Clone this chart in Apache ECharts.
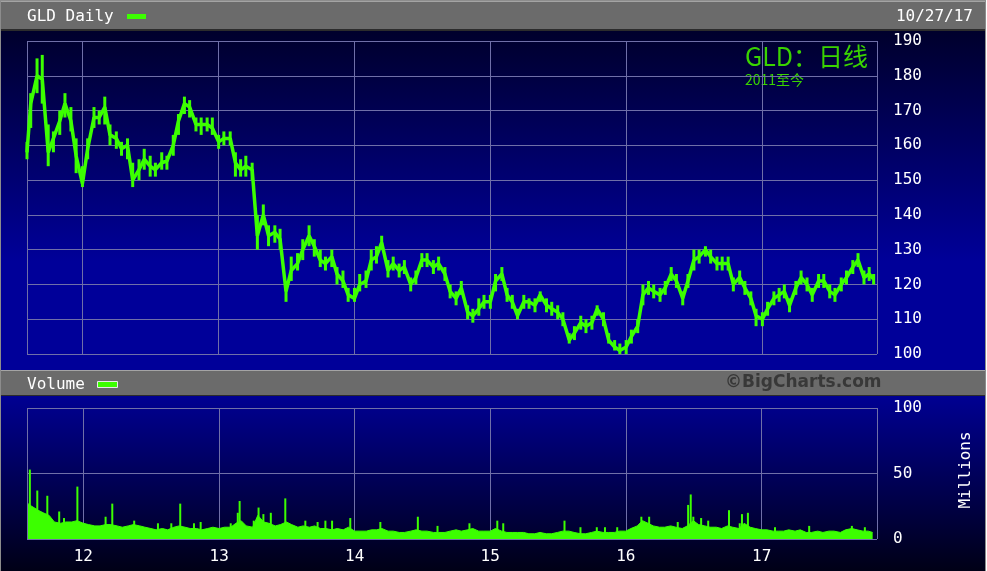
<!DOCTYPE html>
<html>
<head>
<meta charset="utf-8">
<script src="https://cdn.jsdelivr.net/npm/echarts@6/dist/echarts.min.js"></script>
<style>
  html, body { margin: 0; padding: 0; background: #fff; }
  #chart { width: 987px; height: 571px; }
</style>
</head>
<body>
<div id="chart"></div>
<script>
// 日期（半月一点）
const dates = [
  '2011-08-05','2011-08-15','2011-09-01','2011-09-15','2011-10-01','2011-10-15','2011-11-01','2011-11-15','2011-12-01','2011-12-15',
  '2012-01-01','2012-01-15','2012-02-01','2012-02-15','2012-03-01','2012-03-15','2012-04-01','2012-04-15','2012-05-01','2012-05-15',
  '2012-06-01','2012-06-15','2012-07-01','2012-07-15','2012-08-01','2012-08-15','2012-09-01','2012-09-15','2012-10-01','2012-10-15',
  '2012-11-01','2012-11-15','2012-12-01','2012-12-15','2013-01-01','2013-01-15','2013-02-01','2013-02-15','2013-03-01','2013-03-15',
  '2013-04-01','2013-04-15','2013-05-01','2013-05-15','2013-06-01','2013-06-15','2013-07-01','2013-07-15','2013-08-01','2013-08-15',
  '2013-09-01','2013-09-15','2013-10-01','2013-10-15','2013-11-01','2013-11-15','2013-12-01','2013-12-15','2014-01-01','2014-01-15',
  '2014-02-01','2014-02-15','2014-03-01','2014-03-15','2014-04-01','2014-04-15','2014-05-01','2014-05-15','2014-06-01','2014-06-15',
  '2014-07-01','2014-07-15','2014-08-01','2014-08-15','2014-09-01','2014-09-15','2014-10-01','2014-10-15','2014-11-01','2014-11-15',
  '2014-12-01','2014-12-15','2015-01-01','2015-01-15','2015-02-01','2015-02-15','2015-03-01','2015-03-15','2015-04-01','2015-04-15',
  '2015-05-01','2015-05-15','2015-06-01','2015-06-15','2015-07-01','2015-07-15','2015-08-01','2015-08-15','2015-09-01','2015-09-15',
  '2015-10-01','2015-10-15','2015-11-01','2015-11-15','2015-12-01','2015-12-15','2016-01-01','2016-01-15','2016-02-01','2016-02-15',
  '2016-03-01','2016-03-15','2016-04-01','2016-04-15','2016-05-01','2016-05-15','2016-06-01','2016-06-15','2016-07-01','2016-07-15',
  '2016-08-01','2016-08-15','2016-09-01','2016-09-15','2016-10-01','2016-10-15','2016-11-01','2016-11-15','2016-12-01','2016-12-15',
  '2017-01-01','2017-01-15','2017-02-01','2017-02-15','2017-03-01','2017-03-15','2017-04-01','2017-04-15','2017-05-01','2017-05-15',
  '2017-06-01','2017-06-15','2017-07-01','2017-07-15','2017-08-01','2017-08-15','2017-09-01','2017-09-15','2017-10-01','2017-10-15',
  '2017-10-27'
];
// 收盘价
const price = [
  158,172,180,179,158,162,167,172,167,157,
  149,159,168,168,171,163,162,159,160,150,
  153,156,154,153,155,155.5,160,167,172,171,
  166,166,166,165,161,162,162,155,153,154,
  153,134,140,134,135,133,118,124,126,130,
  134,131,127,126,128,123,121,117,116,120,
  121,127,128,132,124,126,124,125,120,122,
  127,127,125,126,123,118,116,119,112,111,
  113,115,115,121,123,117,115,111,115,115,
  114,117,114,113,112,110,104,106,109,108,
  109,113,110,104,102,101,102,105,108,117,
  119,118,117,119,123,121,116,121,127,128,
  130,128,126,126,126,120,122,119,116,111,
  110,113,116,117,118,114,119,122,120,117,
  121,121,118,117,120,122,125,127,122,123,
  121.5
];
// 最高价
const high = [
  161,175,185,186,166,164,170,175,171,162,
  154,162,171,170,174,166,164,161,162,155,
  156,159,157,155,158,157,163,169,174,173,
  168,168,168,168,163,164,164,158,156,157,
  155,140,143,137,137,136,121,128,129,133,
  137,133,130,128,130,125,124,119,119,123,
  124,130,131,134,127,128,126,127,122,124,
  129,129,127,128,125,120,118,121,114,113,
  116,117,117,123,125,119,117,113,117,116,
  116,118,116,115,114,112,106,108,111,110,
  111,114,112,106,104,103,104,107,110,120,
  121,120,119,121,125,123,118,123,130,130,
  131,130,128,128,128,122,124,121,118,113,
  112,115,118,119,120,116,121,124,122,119,
  123,123,120,119,122,124,127,129,124,125,
  123
];
// 最低价
const low = [
  156,165,175,172,154,158,163,168,164,152,
  148,156,165,166,166,160,159,157,156,148,
  150,153,151,151,153,153,157,163,169,168,
  164,163,164,163,159,160,160,151,151,151,
  150,130,137,131,132,130,115,121,124,127,
  131,128,125,124,125,120,119,115,115,118,
  119,124,126,130,122,124,122,123,118,120,
  125,125,123,124,121,116,114,117,110,109,
  111,113,113,118,121,115,113,110,113,113,
  112,115,112,111,110,108,103,104,107,106,
  107,111,108,103,101,100,100,103,106,114,
  117,116,115,117,121,119,114,119,124,126,
  128,126,124,124,124,118,120,117,114,108,
  108,111,114,115,116,112,117,120,118,115,
  119,119,116,115,118,120,123,125,120,121,
  120
];
// 成交量（百万）
const volume = [
  27,25,22,20,18,13,12,13,13,14,
  12,11,10,10,11,11,10,9,10,11,
  10,9,8,7,8,7,9,10,9,8,
  8,7,8,9,8,9,9,12,14,10,
  9,18,13,12,10,11,13,11,9,10,
  9,10,8,8,7,8,7,9,6,6,
  6,7,7,8,6,6,5,5,6,7,
  6,6,5,5,5,6,7,6,7,8,
  6,6,6,8,6,5,5,5,5,4,
  4,5,4,4,5,6,6,5,4,4,
  5,6,5,5,5,6,6,8,10,14,
  12,10,9,9,10,9,8,10,14,11,
  10,9,9,8,10,9,8,12,9,8,
  7,7,6,6,6,7,6,7,5,5,
  6,5,6,6,5,7,8,7,6,6,
  5
];
// 成交量尖峰
const spikeDates = [
  '2011-08-10','2011-08-30','2011-09-26','2011-10-28','2011-11-10','2011-12-16','2012-03-01','2012-03-19','2012-05-17','2012-07-20',
  '2012-08-25','2012-09-18','2012-10-25','2012-11-12','2013-02-01','2013-02-20','2013-02-25','2013-04-04','2013-04-17','2013-04-30',
  '2013-05-20','2013-06-28','2013-08-21','2013-09-23','2013-10-14','2013-11-01','2013-12-20','2014-03-11','2014-06-20','2014-08-12',
  '2014-11-06','2015-01-20','2015-02-05','2015-07-20','2015-09-01','2015-10-15','2015-11-06','2015-12-09','2016-02-12','2016-03-04',
  '2016-05-20','2016-06-17','2016-06-24','2016-07-01','2016-07-22','2016-08-10','2016-10-05','2016-11-03','2016-11-09','2016-11-25',
  '2017-02-06','2017-05-09','2017-09-01','2017-10-06'
];
const spikeVals = [
  53,37,33,21,16,40,17,27,14,12,
  12,27,12,13,12,20,29,14,24,19,
  20,31,14,13,14,14,16,13,17,10,
  12,14,12,14,9,9,9,9,17,17,
  13,26,34,17,16,14,22,12,19,20,
  9,10,10,9
];
const priceTicks = [100, 190, 10];
const volTicks = [0, 100, 50];

const GREEN = '#3cff00';
const GRIDC = '#6f6fa8';
const MONO = 'DejaVu Sans Mono';

const chart = echarts.init(document.getElementById('chart'));

const xBase = {
  type: 'time',
  min: '2011-08-05',
  max: '2017-11-05',
  splitNumber: 6,
  minInterval: 365 * 24 * 3600 * 1000,
  axisLine: {show: false},
  axisTick: {show: false},
  splitLine: {show: true, lineStyle: {color: GRIDC, width: 1}}
};

// 高低价竖线
function renderRange(params, api) {
  const top = api.coord([api.value(0), api.value(1)]);
  const bot = api.coord([api.value(0), api.value(2)]);
  return {
    type: 'rect',
    shape: {x: top[0] - 1.5, y: top[1], width: 3, height: bot[1] - top[1]},
    style: {fill: GREEN}
  };
}

const option = {
  backgroundColor: '#ffffff',
  animation: false,
  graphic: [
    // 外框与背景
    {type: 'rect', z: -20, shape: {x: 0, y: 0, width: 986, height: 571}, style: {fill: '#8c8c8c'}},
    {type: 'rect', z: -19, shape: {x: 1, y: 1, width: 984, height: 28}, style: {fill: '#6b6b6b'}},
    {type: 'rect', z: -19, shape: {x: 1, y: 1, width: 984, height: 1}, style: {fill: '#a4a4a4'}},
    {type: 'rect', z: -19, shape: {x: 1, y: 29, width: 984, height: 2}, style: {fill: '#2c2c2c'}},
    {type: 'rect', z: -19, shape: {x: 1, y: 31, width: 984, height: 339},
      style: {fill: new echarts.graphic.LinearGradient(0, 0, 0, 1, [
        {offset: 0, color: '#00002c'}, {offset: 0.68, color: '#000099'}, {offset: 1, color: '#000099'}])}},
    {type: 'rect', z: -19, shape: {x: 1, y: 370, width: 984, height: 1}, style: {fill: '#a4a4a4'}},
    {type: 'rect', z: -19, shape: {x: 1, y: 371, width: 984, height: 24}, style: {fill: '#6b6b6b'}},
    {type: 'rect', z: -19, shape: {x: 1, y: 395, width: 984, height: 1}, style: {fill: '#2c2c2c'}},
    {type: 'rect', z: -19, shape: {x: 1, y: 396, width: 984, height: 175},
      style: {fill: new echarts.graphic.LinearGradient(0, 0, 0, 1, [
        {offset: 0, color: '#000092'}, {offset: 1, color: '#000016'}])}},
    // 标题栏文字
    {type: 'text', x: 27, y: 17, style: {text: 'GLD Daily', fill: '#ffffff', font: '16px ' + MONO, verticalAlign: 'middle'}},
    {type: 'rect', shape: {x: 127, y: 14, width: 19, height: 5}, style: {fill: GREEN}},
    {type: 'text', x: 973, y: 17, style: {text: '10/27/17', fill: '#ffffff', font: '16px ' + MONO, align: 'right', verticalAlign: 'middle'}},
    {type: 'text', x: 27, y: 385, style: {text: 'Volume', fill: '#ffffff', font: '16px ' + MONO, verticalAlign: 'middle'}},
    {type: 'rect', shape: {x: 97.5, y: 381.5, width: 20, height: 6}, style: {fill: GREEN, stroke: '#e8e8e8', lineWidth: 1}},
    {type: 'text', x: 725, y: 383, style: {text: '©BigCharts.com', fill: '#383838', font: 'bold 17px "DejaVu Sans"', verticalAlign: 'middle'}},
    {type: 'text', x: 966, y: 470, rotation: Math.PI / 2,
      style: {text: 'Millions', fill: '#ffffff', font: '16px ' + MONO, align: 'center', verticalAlign: 'middle'}},
    // 水印标题
    {type: 'text', x: 745, y: 44, style: {text: 'GLD：日线', fill: '#3ad400', font: '25px "Noto Sans CJK SC"', verticalAlign: 'top'}},
    {type: 'text', x: 745, y: 73, style: {text: '2011至今', fill: '#3ad400', font: '14px "Noto Sans CJK SC"', verticalAlign: 'top'}}
  ],
  grid: [
    {left: 27, right: 110, top: 41, height: 313},
    {left: 27, right: 110, top: 408, height: 131}
  ],
  xAxis: [
    Object.assign({gridIndex: 0, axisLabel: {show: false}}, xBase),
    Object.assign({gridIndex: 1, axisLabel: {
      color: '#ffffff', fontFamily: MONO, fontSize: 16, margin: 10,
      showMinLabel: false, showMaxLabel: false,
      formatter: v => String(new Date(v).getFullYear()).slice(2)
    }}, xBase)
  ],
  yAxis: [
    {gridIndex: 0, type: 'value', position: 'right', min: priceTicks[0], max: priceTicks[1], interval: priceTicks[2],
      axisLine: {show: false}, axisTick: {show: false},
      axisLabel: {color: '#ffffff', fontFamily: MONO, fontSize: 16, margin: 16},
      splitLine: {lineStyle: {color: GRIDC, width: 1}}},
    {gridIndex: 1, type: 'value', position: 'right', min: volTicks[0], max: volTicks[1], interval: volTicks[2],
      axisLine: {show: false}, axisTick: {show: false},
      axisLabel: {color: '#ffffff', fontFamily: MONO, fontSize: 16, margin: 16},
      splitLine: {lineStyle: {color: GRIDC, width: 1}}}
  ],
  series: [
    {
      type: 'custom', xAxisIndex: 0, yAxisIndex: 0,
      renderItem: renderRange,
      encode: {x: 0, y: [1, 2]},
      data: dates.map((d, i) => [d, high[i], low[i]])
    },
    {
      type: 'line', xAxisIndex: 0, yAxisIndex: 0, symbol: 'none',
      data: dates.map((d, i) => [d, price[i]]),
      lineStyle: {color: GREEN, width: 3.5}
    },
    {
      type: 'line', xAxisIndex: 1, yAxisIndex: 1, symbol: 'none',
      data: dates.map((d, i) => [d, volume[i]]),
      lineStyle: {color: GREEN, width: 1},
      areaStyle: {color: GREEN, opacity: 1}
    },
    {
      type: 'bar', xAxisIndex: 1, yAxisIndex: 1, barWidth: 2,
      data: spikeDates.map((d, i) => [d, spikeVals[i]]),
      itemStyle: {color: GREEN}
    }
  ]
};

chart.setOption(option);
</script>
</body>
</html>
